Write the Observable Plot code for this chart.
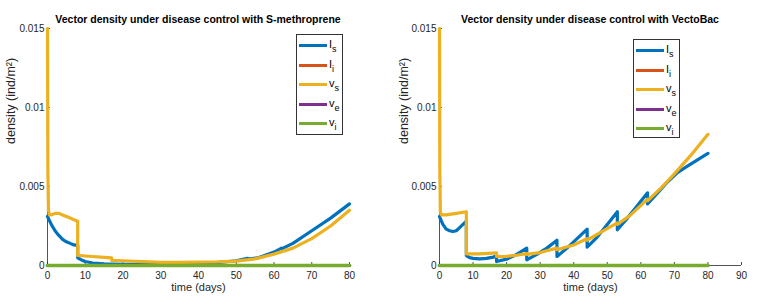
<!DOCTYPE html>
<html>
<head>
<meta charset="utf-8">
<script src="https://cdn.jsdelivr.net/npm/d3@7"></script>
<script src="https://cdn.jsdelivr.net/npm/@observablehq/plot@0.6"></script>
<style>
  html, body { margin: 0; padding: 0; background: #fff; }
  #wrap { position: relative; width: 757px; height: 299px; font-family: "Liberation Sans", Arial, sans-serif; }
  .panel { position: absolute; top: 0; }
  .title { position: absolute; top: 13px; font-weight: bold; font-size: 10.5px; color: #000; white-space: nowrap; transform: translateX(-50%); }
  .legend { position: absolute; border: 1px solid #333; background: #fff; box-sizing: border-box; }
  .row { position: absolute; left: 2px; height: 14px; }
  .sw { position: absolute; left: 0; top: 6px; width: 28px; height: 3px; }
  .lab { position: absolute; left: 30px; top: 0px; font-size: 11px; line-height: 12px; color: #000; white-space: nowrap; }
  .lab sub { font-size: 9px; vertical-align: -4px; line-height: 0; }
</style>
</head>
<body>
<div id="wrap"></div>
<script>
// ---------- data ----------
const seriesNames = ["Is", "Ii", "Vs", "Ve", "Vi"];
const legendMain = ["I", "I", "v", "v", "v"];
const legendSub = ["s", "i", "s", "e", "i"];
const colors = ["#0072BD", "#D95319", "#EDB120", "#7E2F8E", "#77AC30"];

const titles = [
  "Vector density under disease control with S-methroprene",
  "Vector density under disease control with VectoBac"
];
const xLabel = "time (days)";
const yLabel = "density (ind/m²)";
const yTicks = [0, 0.005, 0.01, 0.015];
const yTickLabels = ["0", "0.005", "0.01", "0.015"];
const xTicksLeft = [0, 10, 20, 30, 40, 50, 60, 70, 80];
const xTicksRight = [0, 10, 20, 30, 40, 50, 60, 70, 80, 90];

// zero-valued compartments (Ii, Ve, Vi)
const tZero = [0, 80];
const zeroVals = [0, 0];

// S-methroprene panel
const tIsL = [0, 1, 2, 3, 4, 5, 6, 7, 8, 8, 9, 10, 12, 15, 20, 30, 40, 45, 50, 53, 53, 56, 60, 62, 62, 65, 70, 75, 80];
const IsL = [0.0031, 0.0026, 0.0022, 0.0019, 0.00165, 0.0015, 0.0014, 0.0013, 0.00127, 0.00049, 0.00035, 0.00025, 0.00016, 0.0001, 0.00008, 0.00008, 0.0001, 0.00018, 0.0003, 0.00045, 0.0004, 0.0005, 0.00085, 0.0011, 0.00105, 0.0014, 0.0022, 0.003, 0.0039];
const tVsL = [0, 0.1, 0.25, 0.5, 1, 2, 3, 4, 5, 6, 7, 8, 8, 10, 12, 15, 17, 17, 20, 25, 30, 35, 40, 45, 50, 55, 60, 65, 70, 75, 80];
const VsL = [0.015, 0.006, 0.0035, 0.0032, 0.0032, 0.0033, 0.0033, 0.0032, 0.0031, 0.003, 0.0029, 0.0028, 0.00064, 0.0006, 0.00057, 0.00052, 0.00048, 0.00033, 0.0003, 0.00025, 0.0002, 0.0002, 0.00021, 0.00023, 0.00028, 0.00042, 0.00072, 0.0011, 0.0017, 0.0025, 0.0035];

// VectoBac panel
const tIsR = [0, 1, 2, 3, 4, 5, 6, 7, 8, 8, 9, 10, 12, 14, 16, 17, 17, 20, 23, 26, 26, 29, 32, 35, 35, 38, 41, 44, 44, 47, 50, 53, 53, 56, 59, 62, 62, 65, 68, 71, 74, 77, 80];
const IsR = [0.0031, 0.0026, 0.0023, 0.0022, 0.00215, 0.0022, 0.0024, 0.0026, 0.0028, 0.00063, 0.0005, 0.00045, 0.00042, 0.00045, 0.00053, 0.0006, 0.00025, 0.0004, 0.0007, 0.0011, 0.00036, 0.0007, 0.0011, 0.0016, 0.00057, 0.0011, 0.0017, 0.0023, 0.00116, 0.0018, 0.0026, 0.0034, 0.00226, 0.003, 0.0038, 0.0046, 0.0039, 0.0046, 0.0053, 0.0059, 0.0063, 0.0067, 0.0071];
const tVsR = [0, 0.1, 0.25, 0.5, 2, 5, 8, 8, 12, 17, 17, 20, 23, 26, 26, 30, 35, 35, 40, 44, 44, 48, 53, 53, 57, 62, 62, 66, 70, 75, 80];
const VsR = [0.015, 0.006, 0.0034, 0.0032, 0.0032, 0.0033, 0.0034, 0.00074, 0.00073, 0.0008, 0.00057, 0.00058, 0.00065, 0.00075, 0.0007, 0.00082, 0.0011, 0.001, 0.0013, 0.0017, 0.0016, 0.0021, 0.0027, 0.0026, 0.0032, 0.0042, 0.0041, 0.0049, 0.0058, 0.007, 0.0083];

// ---------- build ----------
function rows(ts, vs, name) { return ts.map((t, i) => ({t, v: vs[i], name})); }

const H = 299, MT = 28, MB = 34, TICK = 3;

const panels = [
  {
    left: 0, width: 380, marginLeft: 47, marginRight: 31, xDomain: [0, 80], xTicks: xTicksLeft, yLabelDx: -37,
    series: [rows(tIsL, IsL, "Is"), rows(tZero, zeroVals, "Ii"), rows(tVsL, VsL, "Vs"), rows(tZero, zeroVals, "Ve"), rows(tZero, zeroVals, "Vi")],
    legend: {left: 296, top: 34, width: 47, height: 101}
  },
  {
    left: 380, width: 377, marginLeft: 59, marginRight: 16, xDomain: [0, 90], xTicks: xTicksRight, yLabelDx: -36,
    series: [rows(tIsR, IsR, "Is"), rows(tZero, zeroVals, "Ii"), rows(tVsR, VsR, "Vs"), rows(tZero, zeroVals, "Ve"), rows(tZero, zeroVals, "Vi")],
    legend: {left: 633, top: 39, width: 47, height: 99}
  }
];

const wrap = document.getElementById("wrap");

panels.forEach((p, k) => {
  const fw = p.width - p.marginLeft - p.marginRight;
  const fh = H - MT - MB;
  const chart = Plot.plot({
    width: p.width,
    height: H,
    marginLeft: p.marginLeft,
    marginRight: p.marginRight,
    marginTop: MT,
    marginBottom: MB,
    style: {fontFamily: "Liberation Sans, Arial, sans-serif", fontSize: "10px", color: "#262626", background: "transparent"},
    x: {type: "linear", domain: p.xDomain},
    y: {type: "linear", domain: [0, 0.015]},
    color: {domain: seriesNames, range: colors},
    marks: [
      Plot.axisX({ticks: p.xTicks, tickFormat: d => String(d), tickSize: 0, tickPadding: 6, label: null, fontSize: 10}),
      Plot.axisY({ticks: yTicks, tickFormat: d => yTickLabels[yTicks.indexOf(d)], tickSize: 0, tickPadding: 3, label: null, fontSize: 10}),
      Plot.text([xLabel], {text: d => d, frameAnchor: "bottom", dy: 25, fontSize: 11, fill: "#262626"}),
      Plot.text([yLabel], {text: d => d, frameAnchor: "left", rotate: -90, dx: p.yLabelDx, dy: -3, fontSize: 12.5, fill: "#262626"}),
      Plot.ruleY([0], {stroke: "#262626", strokeWidth: 0.8}),
      Plot.ruleX([0], {stroke: "#262626", strokeWidth: 0.8}),
      Plot.tickX(p.xTicks, {x: d => d, insetTop: fh - TICK, stroke: "#262626", strokeWidth: 0.8}),
      Plot.tickY(yTicks, {y: d => d, insetRight: fw - TICK, stroke: "#262626", strokeWidth: 0.8}),
      ...p.series.map((s, i) => Plot.line(s, {x: "t", y: "v", stroke: "name", strokeWidth: i === 4 ? 3.5 : 3.2, curve: "linear", strokeLinejoin: "round"}))
    ]
  });
  chart.classList.add("panel");
  chart.style.left = p.left + "px";
  wrap.appendChild(chart);

  const title = document.createElement("div");
  title.className = "title";
  title.textContent = titles[k];
  title.style.left = (p.left + p.marginLeft + fw / 2) + "px";
  wrap.appendChild(title);

  const lg = document.createElement("div");
  lg.className = "legend";
  Object.assign(lg.style, {left: p.legend.left + "px", top: p.legend.top + "px", width: p.legend.width + "px", height: p.legend.height + "px"});
  seriesNames.forEach((n, i) => {
    const r = document.createElement("div");
    r.className = "row";
    r.style.top = (3 + i * 19.5) + "px";
    const sw = document.createElement("div");
    sw.className = "sw";
    sw.style.background = colors[i];
    const lab = document.createElement("div");
    lab.className = "lab";
    lab.innerHTML = legendMain[i] + "<sub>" + legendSub[i] + "</sub>";
    r.appendChild(sw); r.appendChild(lab);
    lg.appendChild(r);
  });
  wrap.appendChild(lg);
});
</script>
</body>
</html>
